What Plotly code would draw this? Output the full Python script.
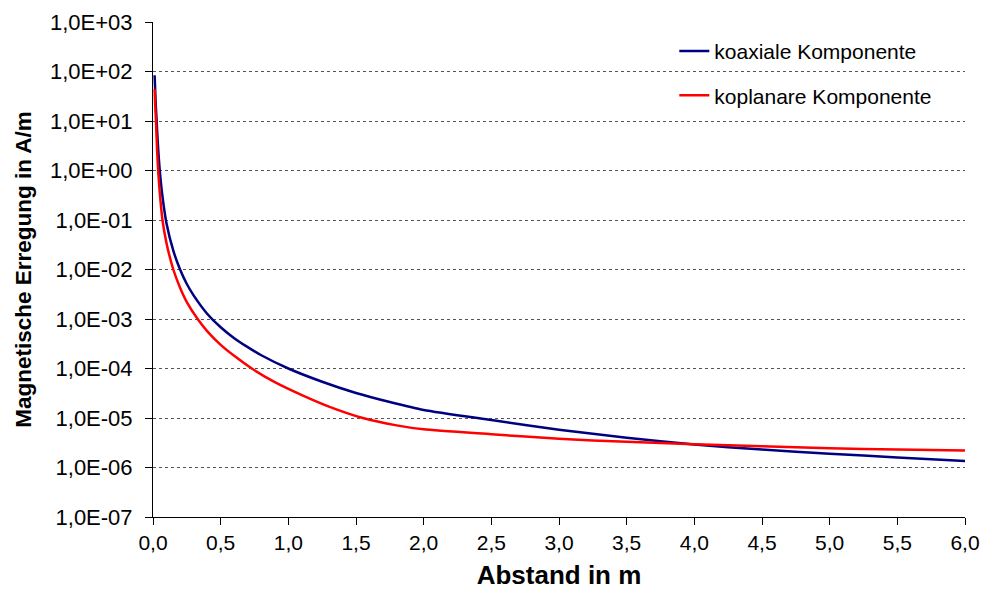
import plotly.graph_objects as go

# Abstand in m
x_koax = [0.012, 0.02, 0.027, 0.03, 0.04, 0.05, 0.07, 0.1, 0.15, 0.2, 0.25, 0.3, 0.4, 0.5, 0.6, 0.7, 0.8,
          1.0, 1.25, 1.5, 1.75, 2.0, 2.5, 3.0, 3.5, 4.0, 4.5, 5.0, 5.5, 6.0]
y_koax = [84, 22, 10, 6.7, 2.3, 1.0, 0.30, 0.085, 0.024, 0.01, 5.1e-3, 3.0e-3, 1.28e-3, 6.8e-4, 4.1e-4, 2.7e-4, 1.85e-4,
          1.0e-4, 5.4e-5, 3.2e-5, 2.1e-5, 1.45e-5, 9.1e-6, 5.8e-6, 4.0e-6, 2.9e-6, 2.3e-6, 1.9e-6, 1.6e-6, 1.35e-6]

x_kopl = [0.012, 0.016, 0.022, 0.03, 0.038, 0.05, 0.07, 0.1, 0.15, 0.2, 0.25, 0.33, 0.4, 0.5, 0.6, 0.73,
          0.9, 1.1, 1.3, 1.55, 1.8, 2.0, 2.5, 3.0, 3.5, 4.0, 4.5, 5.0, 5.5, 6.0]
y_kopl = [44, 22, 10, 2.7, 1.0, 0.355, 0.1, 0.034, 0.01, 4.3e-3, 2.2e-3, 1.0e-3, 5.7e-4, 3.0e-4, 1.8e-4, 1.0e-4,
          5.3e-5, 2.9e-5, 1.7e-5, 1.0e-5, 7.1e-6, 5.9e-6, 4.7e-6, 3.8e-6, 3.3e-6, 2.95e-6, 2.7e-6, 2.45e-6, 2.3e-6, 2.2e-6]

y_tickvals = [1e-7, 1e-6, 1e-5, 1e-4, 1e-3, 1e-2, 1e-1, 1e0, 1e1, 1e2, 1e3]
y_ticktext = ["1,0E-07", "1,0E-06", "1,0E-05", "1,0E-04", "1,0E-03", "1,0E-02", "1,0E-01",
              "1,0E+00", "1,0E+01", "1,0E+02", "1,0E+03"]
x_tickvals = [0.0, 0.5, 1.0, 1.5, 2.0, 2.5, 3.0, 3.5, 4.0, 4.5, 5.0, 5.5, 6.0]
x_ticktext = ["0,0", "0,5", "1,0", "1,5", "2,0", "2,5", "3,0", "3,5", "4,0", "4,5", "5,0", "5,5", "6,0"]

fig = go.Figure()
fig.add_trace(go.Scatter(x=x_koax, y=y_koax, mode="lines", name="koaxiale Komponente",
                         line=dict(color="#000080", width=2.5, shape="spline", smoothing=0.6),
                         legendgroup="a"))
fig.add_trace(go.Scatter(x=x_kopl, y=y_kopl, mode="lines", name="koplanare Komponente",
                         line=dict(color="#FF0000", width=2.5, shape="spline", smoothing=0.6),
                         legendgroup="b"))

font = "Liberation Sans, Arial, sans-serif"
fig.update_layout(
    width=982, height=590,
    margin=dict(l=153, r=17, t=22, b=73),
    paper_bgcolor="white", plot_bgcolor="white",
    font=dict(family=font, size=21, color="black"),
    showlegend=True,
    legend=dict(x=0.642, y=0.982, xanchor="left", yanchor="top",
                bgcolor="rgba(0,0,0,0)", font=dict(size=21),
                tracegroupgap=14, itemwidth=30),
    xaxis=dict(range=[0, 6], tickvals=x_tickvals, ticktext=x_ticktext, automargin=False,
               showgrid=False, zeroline=False, showline=True, linecolor="black", linewidth=1,
               ticks="outside", ticklen=7, tickcolor="black",
               tickfont=dict(size=21),
               title=dict(text="<b>Abstand in m</b>", font=dict(size=26), standoff=14)),
    yaxis=dict(type="log", range=[-7, 3], tickvals=y_tickvals, ticktext=y_ticktext, automargin=False,
               showgrid=True, gridcolor="#555555", griddash="dot", gridwidth=1,
               zeroline=False, showline=True, linecolor="black", linewidth=1,
               ticks="outside", ticklen=7, tickcolor="black", ticklabelstandoff=8,
               tickfont=dict(size=22),
               title=dict(text="<b>Magnetische Erregung in A/m</b>", font=dict(size=22.5), standoff=12)),
)

fig.write_html("out.html", config={"displayModeBar": False},
               post_script="document.body.style.margin='0';document.body.style.overflow='hidden';")
